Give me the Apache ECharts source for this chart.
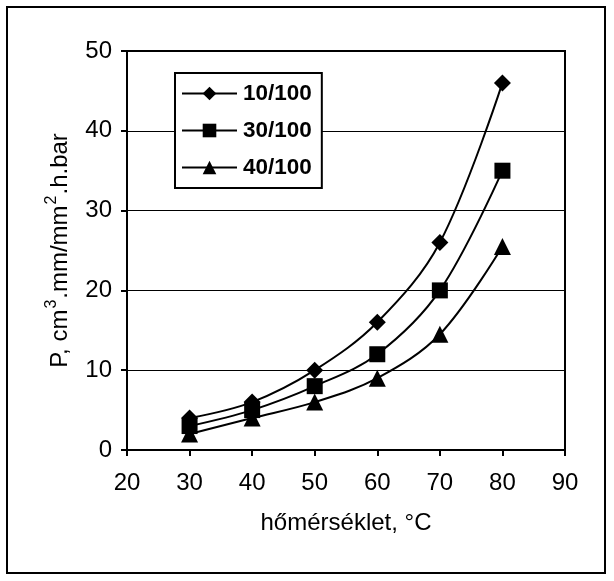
<!DOCTYPE html>
<html><head><meta charset="utf-8">
<script src="https://cdn.jsdelivr.net/npm/echarts@6/dist/echarts.min.js"></script>
<style>html,body{margin:0;padding:0;background:#fff}#c{width:614px;height:581px}</style>
</head><body><div id="c"></div>
<script>
const xValues = [30, 40, 50, 60, 70, 80];
const seriesNames = ['10/100', '30/100', '40/100'];
const s10 = [4, 6, 10, 16, 26, 46];
const s30 = [3, 5, 8, 12, 20, 35];
const s40 = [2, 4, 6, 9, 14.5, 25.5];
const xTicks = [20, 30, 40, 50, 60, 70, 80, 90];
const yTicks = [0, 10, 20, 30, 40, 50];

const font = 'Liberation Sans, Arial, sans-serif';
const FS = 24;
const chart = echarts.init(document.getElementById('c'), null, {renderer: 'canvas'});
function mk(name, data, symbol, size) {
  return {
    name: name, type: 'line', smooth: 0.35,
    data: xValues.map((x, i) => [x, data[i]]),
    symbol: symbol, symbolSize: size,
    lineStyle: {color: '#000', width: 2},
    itemStyle: {color: '#000'},
    z: 3
  };
}
chart.setOption({
  animation: false,
  backgroundColor: '#fff',
  graphic: [{type: 'rect', shape: {x: 7, y: 7, width: 598, height: 566}, style: {fill: 'none', stroke: '#000', lineWidth: 2}, z: -1}],
  grid: {left: 127, right: 49, top: 51, bottom: 131, show: true, borderColor: '#000', borderWidth: 2, backgroundColor: 'transparent'},
  legend: {
    orient: 'vertical', left: 175, top: 73, itemWidth: 55, itemHeight: 17, itemGap: 14,
    padding: [9, 10, 9, 6], borderColor: '#000', borderWidth: 2, backgroundColor: '#fff',
    textStyle: {fontFamily: font, fontSize: 22.5, fontWeight: 'bold', color: '#000', padding: [0, 0, 0, 1]},
    data: seriesNames
  },
  xAxis: {
    type: 'value', min: xTicks[0], max: xTicks[xTicks.length - 1], interval: 10,
    name: 'hőmérséklet, °C', nameLocation: 'middle', nameGap: 61,
    nameTextStyle: {fontFamily: font, fontSize: FS, color: '#000'},
    axisLine: {show: true, lineStyle: {color: '#000', width: 2}},
    axisTick: {show: true, inside: false, length: 6, lineStyle: {color: '#000', width: 2}},
    axisLabel: {fontFamily: font, fontSize: FS, color: '#000', margin: 21},
    splitLine: {show: false}
  },
  yAxis: {
    type: 'value', min: yTicks[0], max: yTicks[yTicks.length - 1], interval: 10,
    name: '{n|P, cm}{s|3}{n|.mm/mm}{s|2}{n|.h.bar}', nameLocation: 'middle', nameGap: 55,
    nameTextStyle: {
      fontFamily: font, fontSize: FS, color: '#000',
      rich: {
        n: {fontFamily: font, fontSize: FS, color: '#000', verticalAlign: 'bottom', lineHeight: 28},
        s: {fontFamily: font, fontSize: 16, color: '#000', verticalAlign: 'top', padding: [0, 1, 12, 1], lineHeight: 28}
      }
    },
    axisLine: {show: true, lineStyle: {color: '#000', width: 2}},
    axisTick: {show: true, inside: false, length: 6, lineStyle: {color: '#000', width: 2}},
    axisLabel: {fontFamily: font, fontSize: FS, color: '#000', margin: 15},
    splitLine: {show: true, lineStyle: {color: '#000', width: 1}}
  },
  series: [
    mk(seriesNames[0], s10, 'diamond', 17),
    mk(seriesNames[1], s30, 'rect', 16),
    mk(seriesNames[2], s40, 'triangle', 17)
  ]
});
</script></body></html>
